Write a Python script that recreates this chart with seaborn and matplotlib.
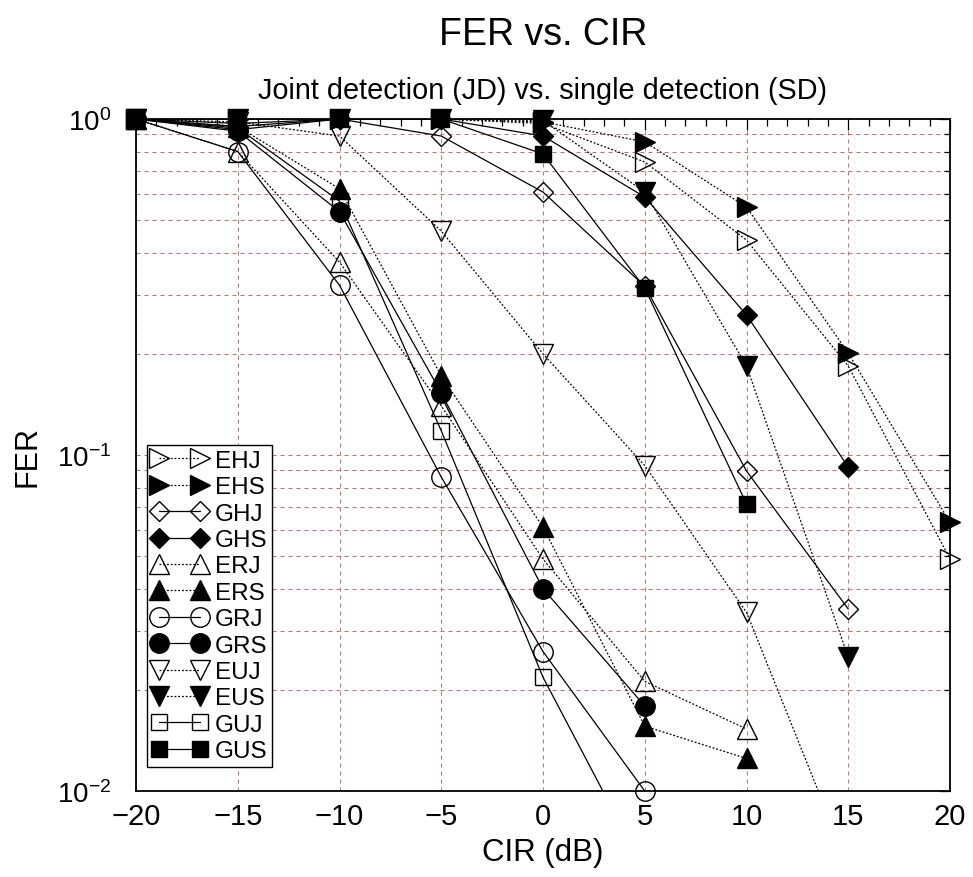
import numpy as np
import pandas as pd
import matplotlib
matplotlib.use("Agg")
import matplotlib.pyplot as plt
from matplotlib.lines import Line2D
from matplotlib.ticker import LogLocator, MultipleLocator, NullFormatter
import seaborn as sns

# ---------------- data ----------------
CIR = [-20, -15, -10, -5, 0, 5, 10, 15, 20]

EHJ = [1.0, 1.0, 1.0, 1.0, 0.97, 0.745, 0.436, 0.184, 0.049]
EHS = [1.0, 1.0, 1.0, 1.0, 0.98, 0.855, 0.547, 0.201, 0.063]
GHJ = [1.0, 0.95, 1.0, 0.89, 0.606, 0.318, 0.0896, 0.0348]
GHS = [1.0, 0.93, 1.0, 1.0, 0.89, 0.586, 0.261, 0.092]
ERJ = [1.0, 0.80, 0.375, 0.14, 0.049, 0.0212, 0.0153]
ERS = [1.0, 0.95, 0.62, 0.172, 0.061, 0.0156, 0.0125]
GRJ = [1.0, 0.80, 0.32, 0.086, 0.026, 0.010]
GRS = [1.0, 0.92, 0.53, 0.153, 0.040, 0.0179]
EUJ = [1.0, 0.98, 0.89, 0.464, 0.20, 0.093, 0.034, 0.006]
EUS = [1.0, 1.0, 1.0, 1.0, 0.99, 0.606, 0.184, 0.025]
GUJ = [1.0, 0.94, 0.57, 0.118, 0.0218, 0.0058]
GUS = [1.0, 0.97, 1.0, 1.0, 0.787, 0.314, 0.0715]

labels = ["EHJ", "EHS", "GHJ", "GHS", "ERJ", "ERS", "GRJ", "GRS", "EUJ", "EUS", "GUJ", "GUS"]
series = [EHJ, EHS, GHJ, GHS, ERJ, ERS, GRJ, GRS, EUJ, EUS, GUJ, GUS]

# ---------------- style ----------------
sns.set_style("white")
plt.rcParams["font.family"] = ["Liberation Sans", "DejaVu Sans"]
plt.rcParams["mathtext.default"] = "regular"
for key in ["text.color", "axes.labelcolor", "xtick.color", "ytick.color", "axes.edgecolor"]:
    plt.rcParams[key] = "black"

markers = {"H": ">", "R": "^", "U": "v"}
msize = {">": 14, "^": 14, "v": 14, "o": 14, "s": 12, "D": 10}

def style_for(lab):
    sys_, ch, det = lab[0], lab[1], lab[2]
    if sys_ == "E":
        ls = (0, (1.5, 1.5))
        mk = markers[ch]
    else:
        ls = "-"
        mk = {"H": "D", "R": "o", "U": "s"}[ch]
    mfc = "k" if det == "S" else "none"
    return ls, mk, mfc

fig = plt.figure(figsize=(9.73, 8.78), dpi=100)
ax = fig.add_axes([0.1398, 0.0979, 0.8366, 0.7654])

ymin, ymax = 1e-2, 1.0
handles = []
for lab, ys in zip(labels, series):
    xs = CIR[:len(ys)]
    df = pd.DataFrame({"CIR": xs, "FER": ys})
    ls, mk, mfc = style_for(lab)
    # connecting line (clipped to the axes)
    sns.lineplot(data=df, x="CIR", y="FER", ax=ax, color="k", linewidth=0.9,
                 linestyle=ls, estimator=None, sort=False, legend=False)
    # markers for points inside the plotted range (not clipped)
    dm = df[(df["FER"] >= ymin * 0.99) & (df["FER"] <= ymax * 1.001)]
    sns.lineplot(data=dm, x="CIR", y="FER", ax=ax, color="k", linestyle="none",
                 marker=mk, markersize=msize[mk], markerfacecolor=mfc,
                 markeredgecolor="k", markeredgewidth=1.0,
                 estimator=None, sort=False, legend=False, clip_on=False, zorder=3)
    handles.append(Line2D([], [], color="k", linewidth=0.9, linestyle=ls, marker=mk,
                          markersize=msize[mk], markerfacecolor=mfc,
                          markeredgecolor="k", markeredgewidth=1.0, label=lab))

ax.set_yscale("log")
ax.set_xlim(-20, 20)
ax.set_ylim(ymin, ymax)
ax.xaxis.set_major_locator(MultipleLocator(5))
ax.xaxis.set_minor_locator(MultipleLocator(1))
ax.yaxis.set_major_locator(LogLocator(base=10))
ax.yaxis.set_minor_locator(LogLocator(base=10, subs=np.arange(2, 10)))
ax.yaxis.set_minor_formatter(NullFormatter())

grid_kw = dict(color="#c27070", linestyle=(0, (4, 4)), linewidth=0.72, snap=True)
ax.grid(True, which="major", axis="x", **grid_kw)
ax.grid(True, which="both", axis="y", **grid_kw)
ax.set_axisbelow(True)

ax.tick_params(axis="both", which="both", direction="in", top=True, right=True,
               colors="k", width=0.9)
ax.tick_params(axis="x", which="major", length=8, labelsize=21, pad=8)
ax.tick_params(axis="x", which="minor", length=5)
ax.tick_params(axis="y", which="major", length=8, labelsize=20, pad=18)
ax.tick_params(axis="y", which="minor", length=4)

for sp in ax.spines.values():
    sp.set_color("k")
    sp.set_linewidth(1.3)

ax.set_xlabel("CIR (dB)", fontsize=22.5, labelpad=5)
ax.set_ylabel("FER", fontsize=22, labelpad=10)

fig.text(0.558, 0.949, "FER vs. CIR", fontsize=27, ha="center", va="baseline")
fig.text(0.558, 0.887, "Joint detection (JD) vs. single detection (SD)",
         fontsize=20.8, ha="center", va="baseline")

leg = ax.legend(handles=handles, loc="lower left", bbox_to_anchor=(0.0135, 0.0357),
                borderaxespad=0, fontsize=17.5, handlelength=2.3, handletextpad=0.28,
                labelspacing=0.18, borderpad=0.2, fancybox=False, framealpha=1,
                edgecolor="k", numpoints=2)
leg.get_frame().set_linewidth(1.0)
leg.set_zorder(5)

fig.savefig("out.png", dpi=100)
